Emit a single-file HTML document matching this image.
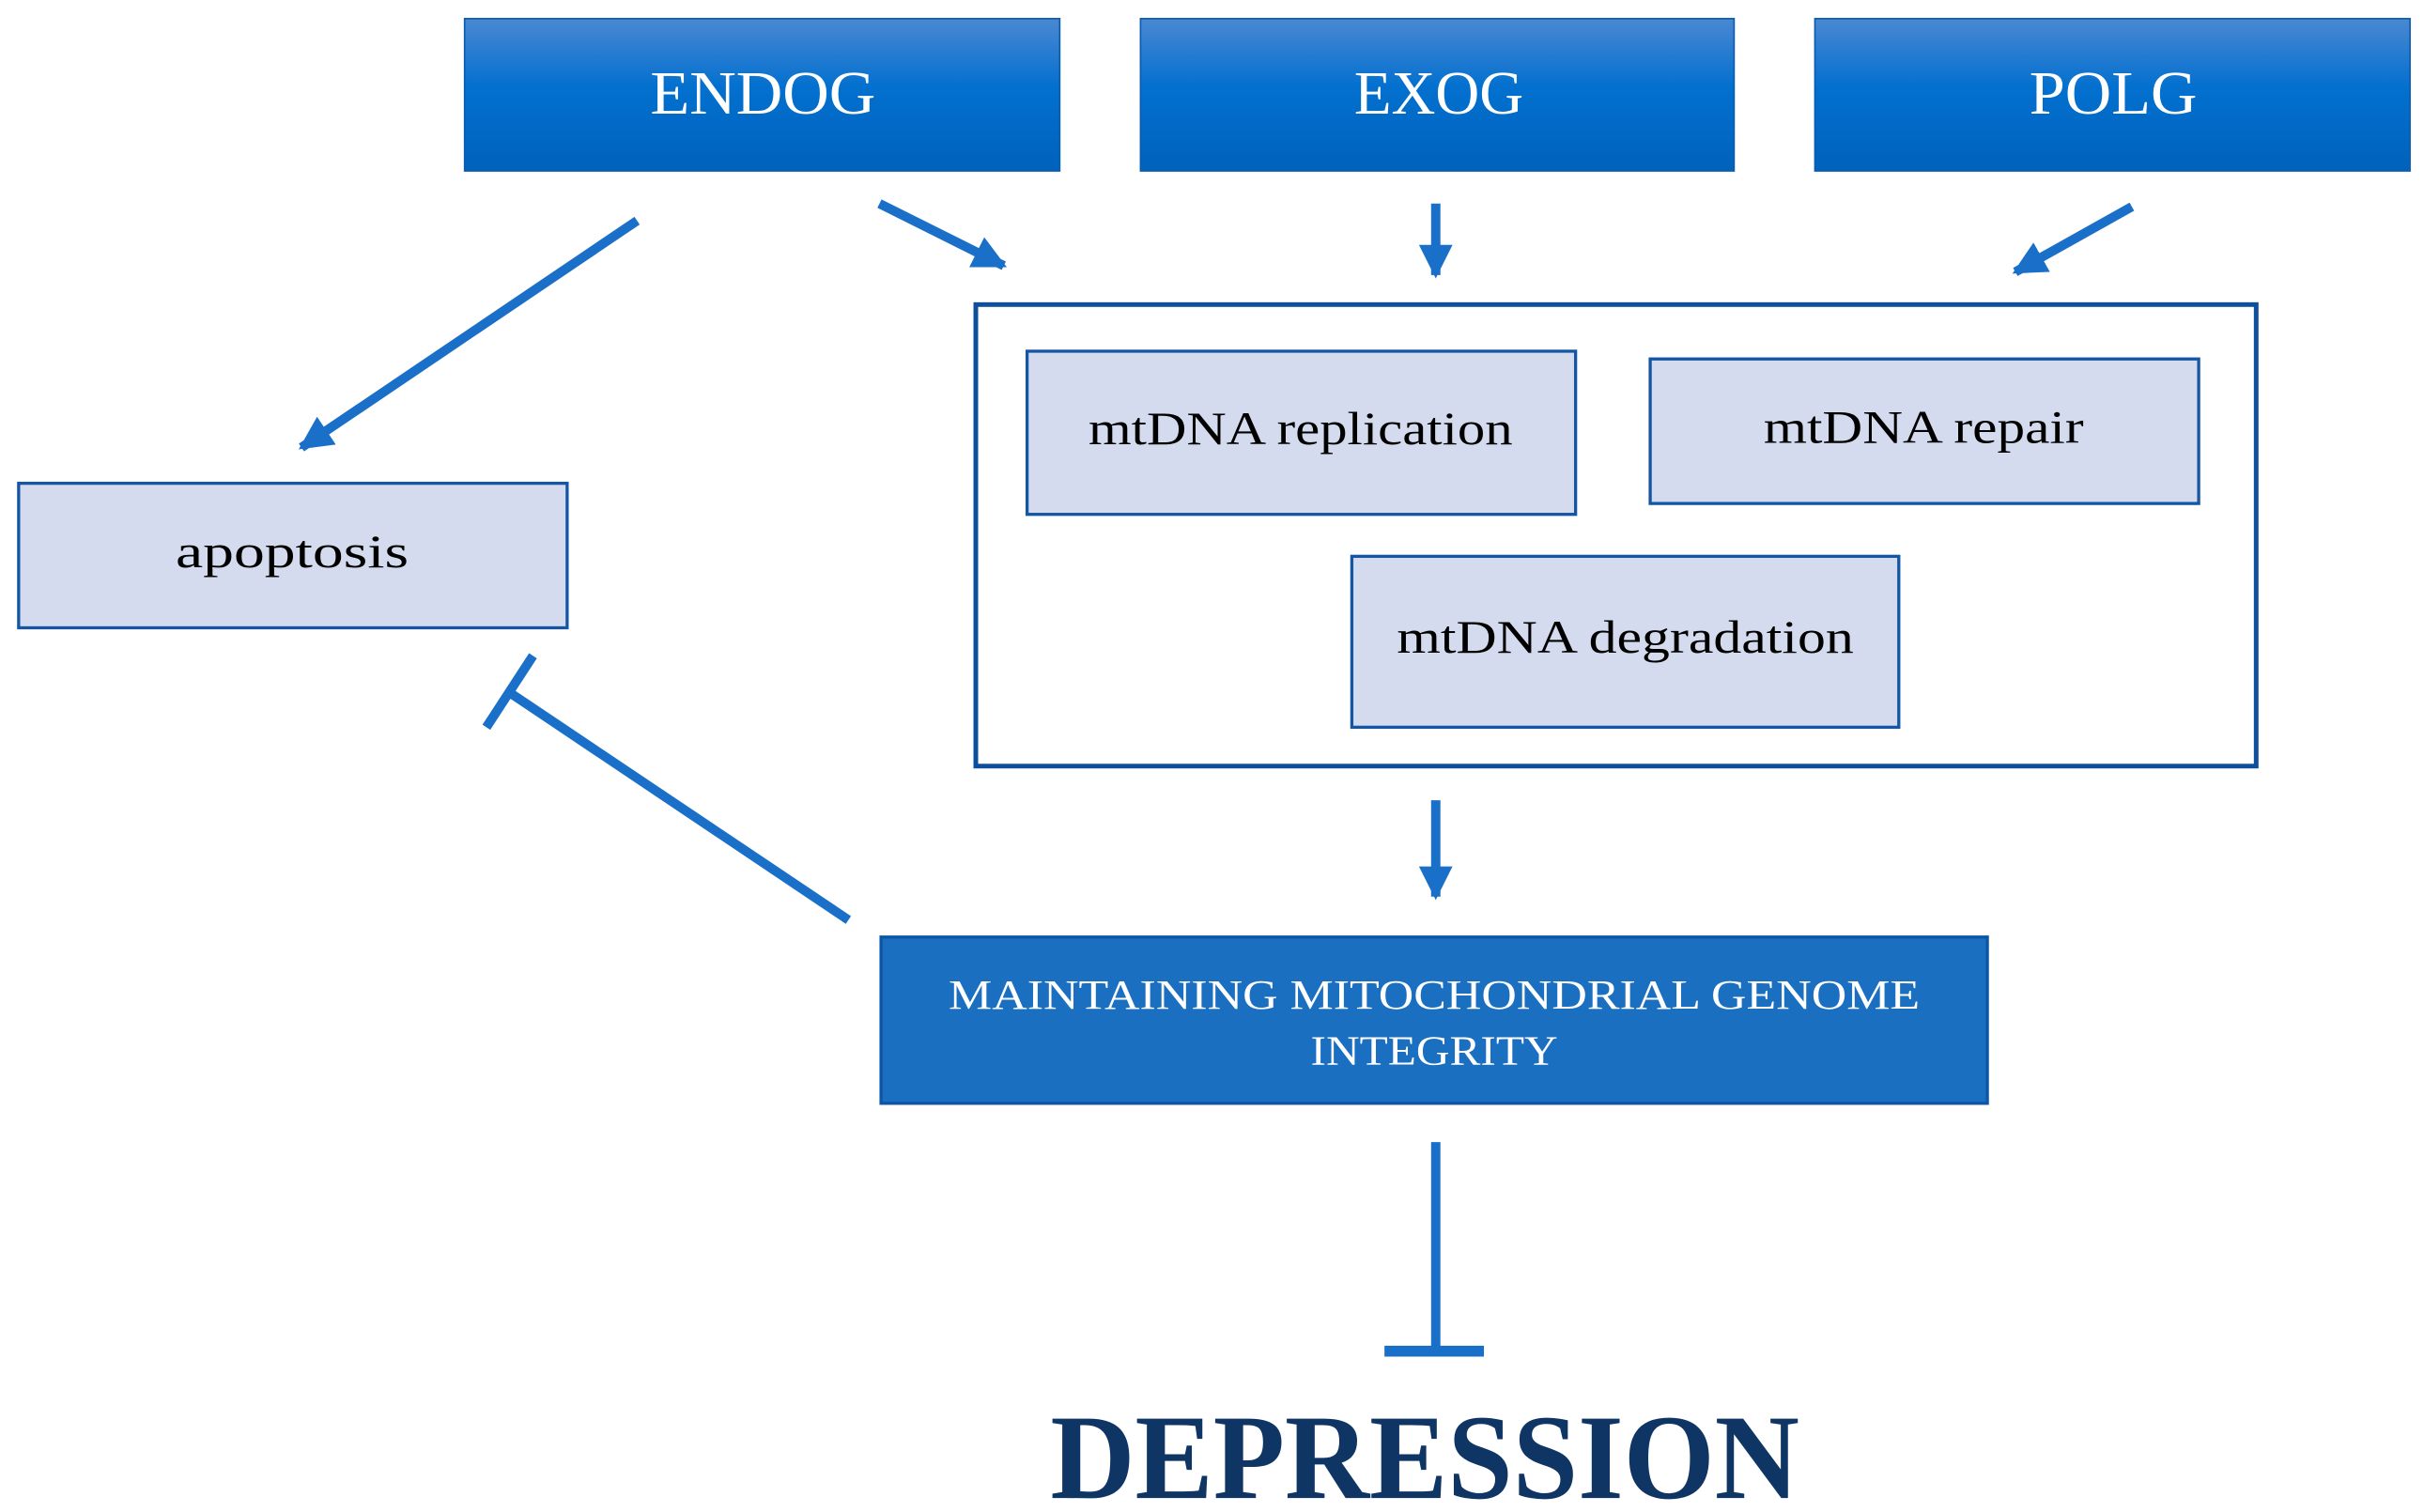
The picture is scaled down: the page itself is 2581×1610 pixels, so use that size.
<!DOCTYPE html>
<html><head><meta charset="utf-8"><style>
html,body{margin:0;padding:0;background:#fff;}
svg{display:block;}
</style></head><body>
<svg width="2581" height="1610" viewBox="0 0 1560 973" preserveAspectRatio="none" xmlns="http://www.w3.org/2000/svg" font-family="'Liberation Serif', serif">
<defs>
<linearGradient id="g" x1="0" y1="0" x2="0" y2="1">
<stop offset="0" stop-color="#4a88d2"/>
<stop offset="0.45" stop-color="#0370cf"/>
<stop offset="1" stop-color="#0062bb"/>
</linearGradient>
<marker id="ah" viewBox="0 0 10 10" refX="9" refY="5" markerWidth="3.6" markerHeight="3.6" orient="auto" markerUnits="strokeWidth">
<path d="M0,0 L10,5 L0,10 z" fill="#1a6fc8"/>
</marker>
</defs>
<!-- top boxes -->
<rect x="299" y="12" width="383" height="98" fill="url(#g)" stroke="#0a5cb0" stroke-width="1"/>
<rect x="734" y="12" width="382" height="98" fill="url(#g)" stroke="#0a5cb0" stroke-width="1"/>
<rect x="1168" y="12" width="383" height="98" fill="url(#g)" stroke="#0a5cb0" stroke-width="1"/>
<text x="491" y="73" font-size="40" fill="#fff" text-anchor="middle" textLength="145" lengthAdjust="spacingAndGlyphs">ENDOG</text>
<text x="926" y="73" font-size="40" fill="#fff" text-anchor="middle" textLength="109" lengthAdjust="spacingAndGlyphs">EXOG</text>
<text x="1360" y="73" font-size="40" fill="#fff" text-anchor="middle" textLength="108" lengthAdjust="spacingAndGlyphs">POLG</text>
<!-- arrows -->
<g stroke="#1a6fc8" stroke-width="6" fill="none">
<line x1="410" y1="142" x2="194" y2="288" marker-end="url(#ah)"/>
<line x1="566" y1="131" x2="646" y2="171" marker-end="url(#ah)"/>
<line x1="924" y1="131" x2="924" y2="177" marker-end="url(#ah)"/>
<line x1="1372" y1="133" x2="1297" y2="175" marker-end="url(#ah)"/>
<line x1="924" y1="515" x2="924" y2="577" marker-end="url(#ah)"/>
<line x1="546" y1="592" x2="327" y2="445"/>
<line x1="313" y1="468" x2="343" y2="422"/>
<line x1="924" y1="735" x2="924" y2="868"/>
</g>
<rect x="891" y="866" width="64" height="7" fill="#1a6fc8"/>
<!-- big box -->
<rect x="628" y="196" width="824" height="297" fill="#fff" stroke="#0d4f9a" stroke-width="3"/>
<g fill="#d5dbee" stroke="#1456a4" stroke-width="2">
<rect x="661" y="226" width="353" height="105"/>
<rect x="1062" y="231" width="353" height="93"/>
<rect x="870" y="358" width="352" height="110"/>
<rect x="12" y="311" width="353" height="93"/>
</g>
<g font-size="30" fill="#000" text-anchor="middle">
<text x="837" y="286" textLength="273" lengthAdjust="spacingAndGlyphs">mtDNA replication</text>
<text x="1238" y="285" textLength="206" lengthAdjust="spacingAndGlyphs">mtDNA repair</text>
<text x="1046" y="420" textLength="294" lengthAdjust="spacingAndGlyphs">mtDNA degradation</text>
<text x="188" y="365" textLength="150" lengthAdjust="spacingAndGlyphs">apoptosis</text>
</g>
<!-- maintaining box -->
<rect x="567" y="603" width="712" height="107" fill="#1a6fc0" stroke="#0d56a6" stroke-width="2"/>
<g font-size="27" fill="#fff" text-anchor="middle">
<text x="923" y="649" textLength="625" lengthAdjust="spacingAndGlyphs">MAINTAINING MITOCHONDRIAL GENOME</text>
<text x="923" y="685" textLength="159" lengthAdjust="spacingAndGlyphs">INTEGRITY</text>
</g>
<text x="917" y="964" font-size="78" font-weight="bold" fill="#0f3565" text-anchor="middle" textLength="482" lengthAdjust="spacingAndGlyphs">DEPRESSION</text>
</svg>
</body></html>
